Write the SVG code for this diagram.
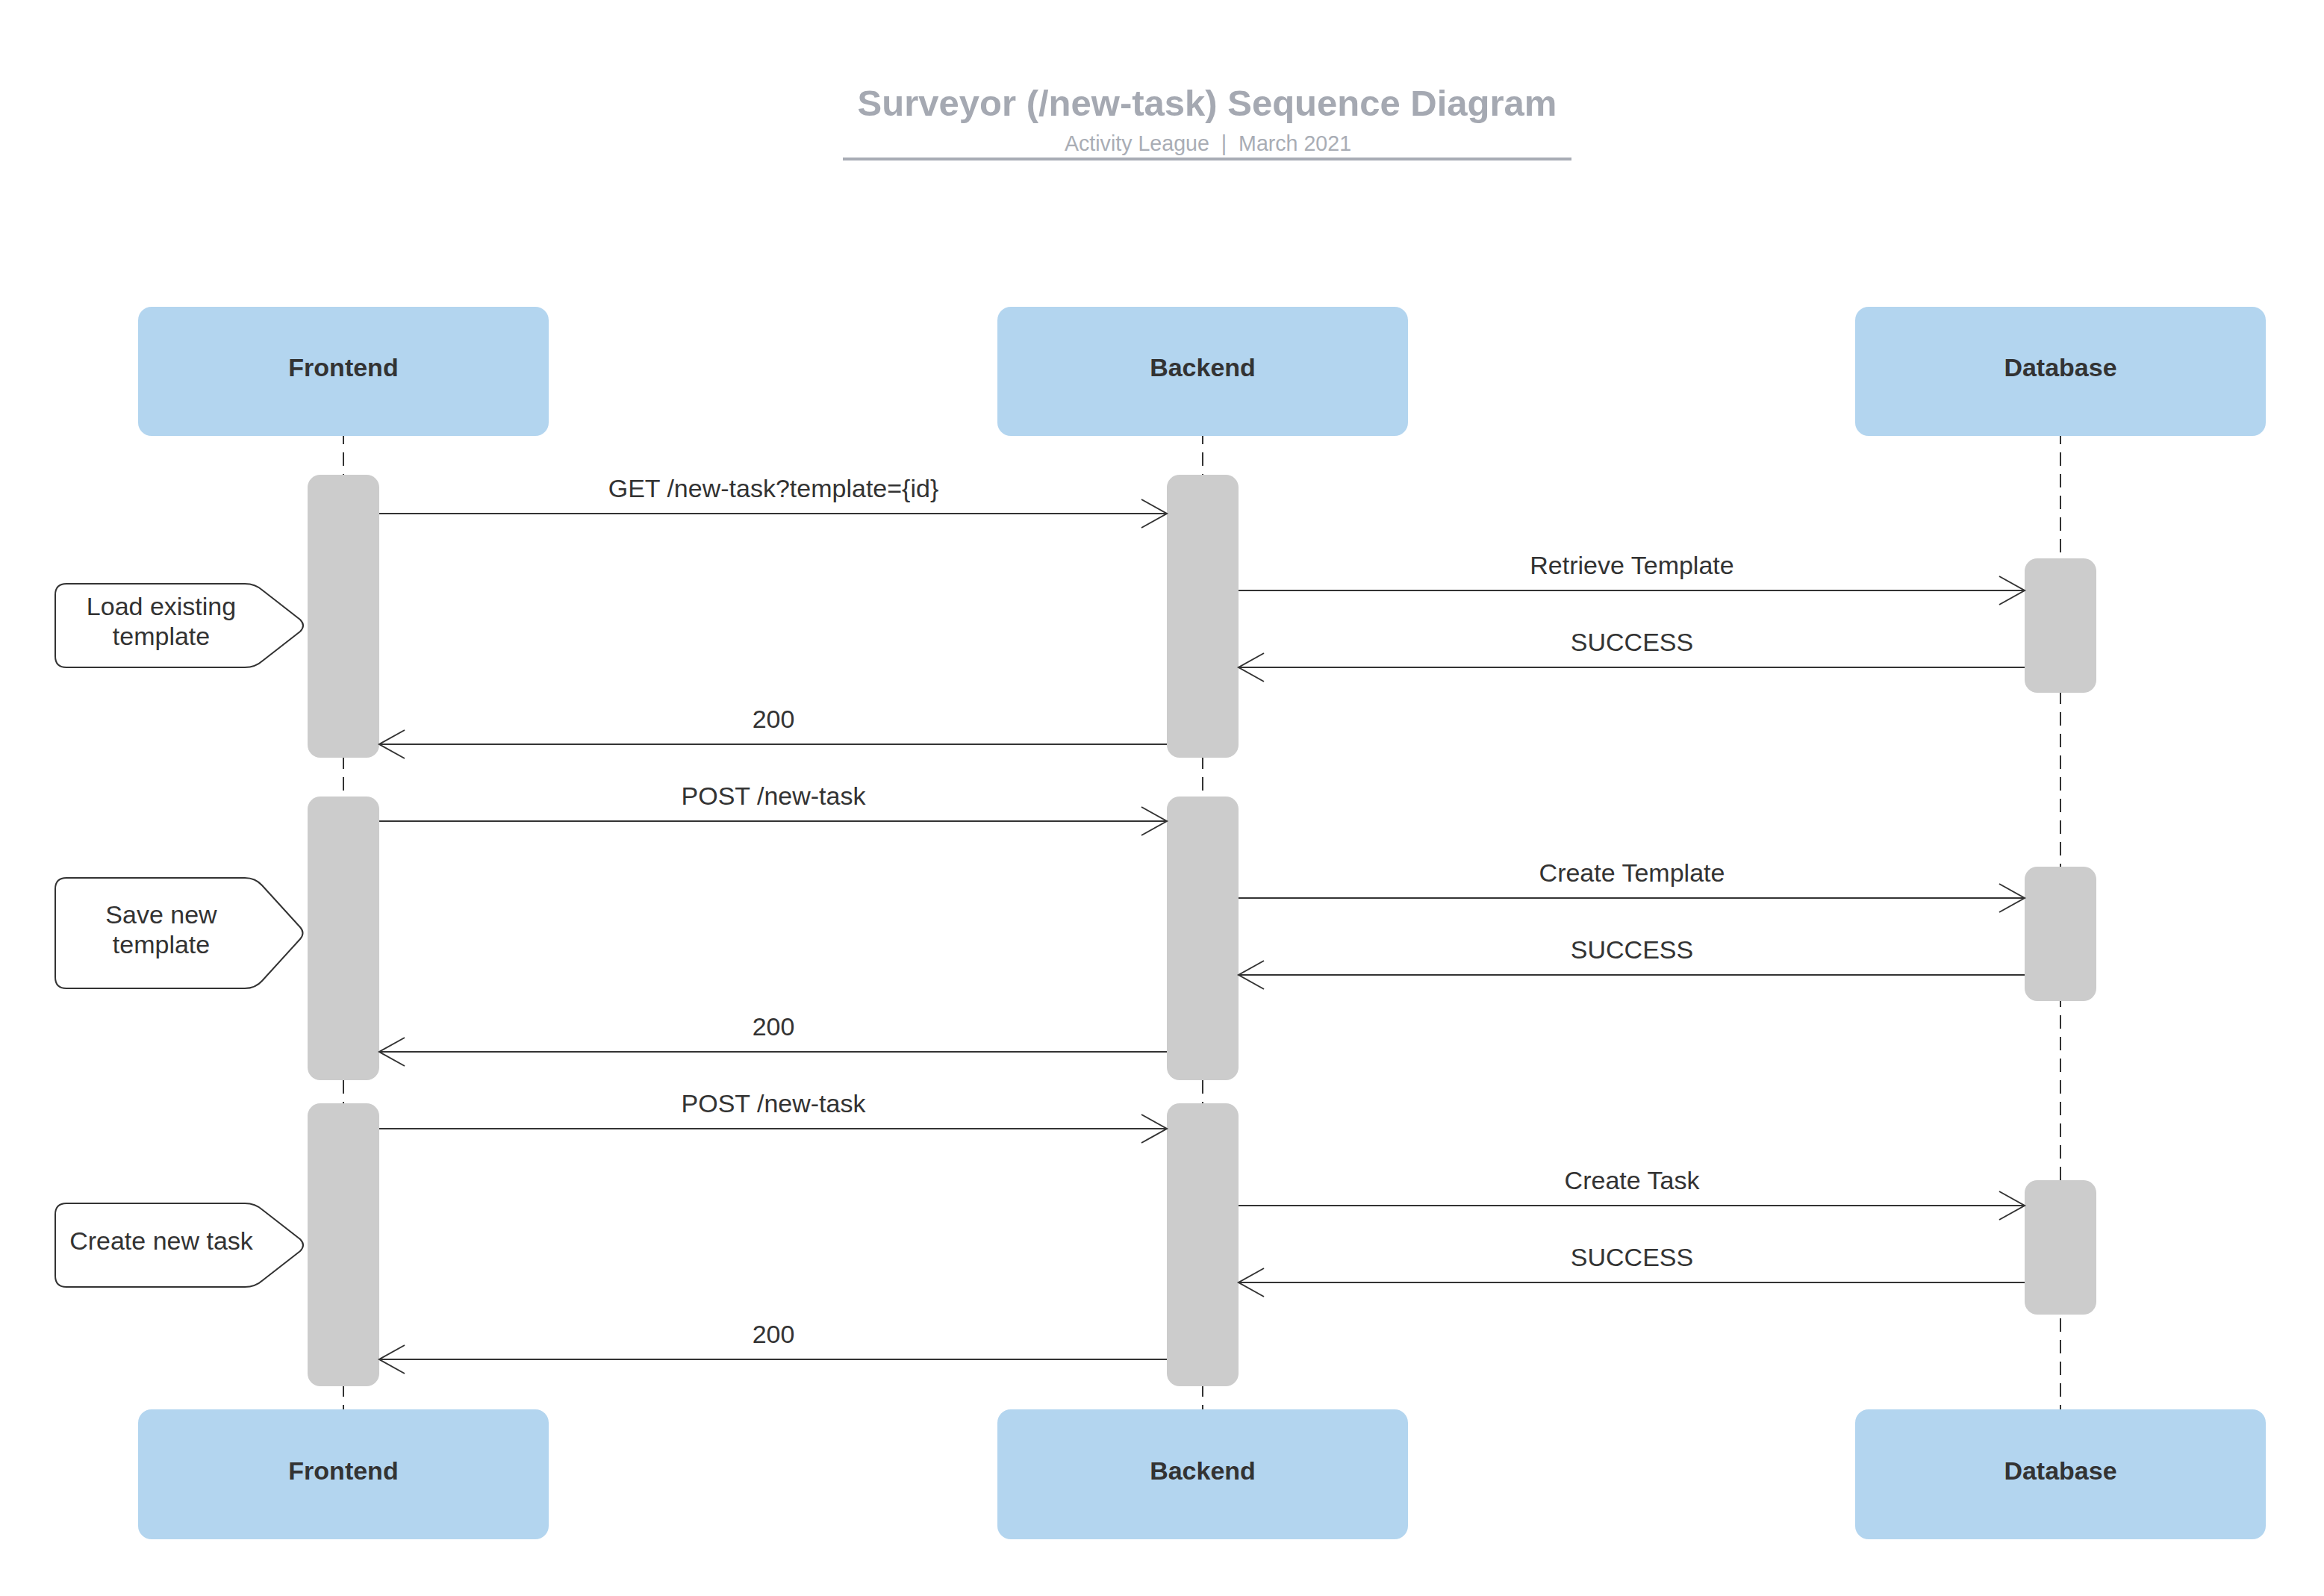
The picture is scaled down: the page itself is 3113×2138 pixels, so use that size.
<svg xmlns="http://www.w3.org/2000/svg" width="3113" height="2138" viewBox="0 0 3113 2138">
<style>
.bg{fill:#ffffff}
.title{font-family:"Liberation Sans",Arial,sans-serif;font-size:49px;font-weight:bold;fill:#a5a9b2;text-anchor:middle}
.sub{font-family:"Liberation Sans",Arial,sans-serif;font-size:28.6px;fill:#a9adb5;text-anchor:middle}
.head{fill:#b3d5ef}
.headtxt{font-family:"Liberation Sans",Arial,sans-serif;font-size:34px;font-weight:bold;fill:#333333;text-anchor:middle}
.life{stroke:#333333;stroke-width:2;stroke-dasharray:18 11;stroke-dashoffset:7;fill:none}
.bar{fill:#cccccc}
.msg{stroke:#333333;stroke-width:2;fill:none;marker-end:url(#arr)}
.lbl{font-family:"Liberation Sans",Arial,sans-serif;font-size:34px;fill:#333333;text-anchor:middle}
.note{fill:#ffffff;stroke:#333333;stroke-width:2}
</style>
<defs>
<marker id="arr" markerUnits="userSpaceOnUse" markerWidth="44" markerHeight="48" viewBox="-38 -24 44 48" refX="0" refY="0" orient="auto" overflow="visible">
<path d="M-34,-19 L0,0 L-34,19" fill="none" stroke="#333333" stroke-width="2"/>
</marker>
</defs>
<rect class="bg" x="0" y="0" width="3113" height="2138"/>

<g id="title">
<text class="title" x="1617" y="155">Surveyor (/new-task) Sequence Diagram</text>
<text class="sub" x="1618" y="202">Activity League&#160; |&#160; March 2021</text>
<line x1="1129" y1="213" x2="2105" y2="213" stroke="#a8acb5" stroke-width="4"/>
</g>

<g id="lifelines">
<line class="life" x1="460" y1="584" x2="460" y2="1888"/>
<line class="life" x1="1611" y1="584" x2="1611" y2="1888"/>
<line class="life" x1="2760" y1="584" x2="2760" y2="1888"/>
</g>

<g id="frontend-top">
<rect class="head" x="185" y="411" width="550" height="173" rx="18"/>
<text class="headtxt" x="460" y="504">Frontend</text>
</g>
<g id="backend-top">
<rect class="head" x="1336" y="411" width="550" height="173" rx="18"/>
<text class="headtxt" x="1611" y="504">Backend</text>
</g>
<g id="database-top">
<rect class="head" x="2485" y="411" width="550" height="173" rx="18"/>
<text class="headtxt" x="2760" y="504">Database</text>
</g>

<g id="frontend-bottom">
<rect class="head" x="185" y="1888" width="550" height="174" rx="18"/>
<text class="headtxt" x="460" y="1982">Frontend</text>
</g>
<g id="backend-bottom">
<rect class="head" x="1336" y="1888" width="550" height="174" rx="18"/>
<text class="headtxt" x="1611" y="1982">Backend</text>
</g>
<g id="database-bottom">
<rect class="head" x="2485" y="1888" width="550" height="174" rx="18"/>
<text class="headtxt" x="2760" y="1982">Database</text>
</g>

<g id="frontend-activations">
<rect class="bar" x="412" y="636" width="96" height="379" rx="17"/>
<rect class="bar" x="412" y="1067" width="96" height="380" rx="17"/>
<rect class="bar" x="412" y="1478" width="96" height="379" rx="17"/>
</g>
<g id="backend-activations">
<rect class="bar" x="1563" y="636" width="96" height="379" rx="17"/>
<rect class="bar" x="1563" y="1067" width="96" height="380" rx="17"/>
<rect class="bar" x="1563" y="1478" width="96" height="379" rx="17"/>
</g>
<g id="database-activations">
<rect class="bar" x="2712" y="748" width="96" height="180" rx="17"/>
<rect class="bar" x="2712" y="1161" width="96" height="180" rx="17"/>
<rect class="bar" x="2712" y="1581" width="96" height="180" rx="17"/>
</g>

<g id="note-load">
<path class="note" d="M89,782 L328,782 Q342,782 352,791 L402,830 Q410,838 402,846 L352,885 Q342,894 328,894 L89,894 Q74,894 74,879 L74,797 Q74,782 89,782 Z"/>
<text class="lbl" x="216" y="824">Load existing</text>
<text class="lbl" x="216" y="864">template</text>
</g>
<g id="note-save">
<path class="note" d="M89,1176 L328,1176 Q342,1176 351,1186 L402,1242 Q409,1250 402,1258 L351,1314 Q342,1324 328,1324 L89,1324 Q74,1324 74,1309 L74,1191 Q74,1176 89,1176 Z"/>
<text class="lbl" x="216" y="1237">Save new</text>
<text class="lbl" x="216" y="1277">template</text>
</g>
<g id="note-create">
<path class="note" d="M89,1612 L328,1612 Q342,1612 352,1621 L402,1660 Q410,1668 402,1676 L352,1715 Q342,1724 328,1724 L89,1724 Q74,1724 74,1709 L74,1627 Q74,1612 89,1612 Z"/>
<text class="lbl" x="216" y="1674">Create new task</text>
</g>

<g id="connectors">
<line class="msg" x1="508" y1="688" x2="1563" y2="688"/>
<line class="msg" x1="1659" y1="791" x2="2712" y2="791"/>
<line class="msg" x1="2712" y1="894" x2="1659" y2="894"/>
<line class="msg" x1="1563" y1="997" x2="508" y2="997"/>
<line class="msg" x1="508" y1="1100" x2="1563" y2="1100"/>
<line class="msg" x1="1659" y1="1203" x2="2712" y2="1203"/>
<line class="msg" x1="2712" y1="1306" x2="1659" y2="1306"/>
<line class="msg" x1="1563" y1="1409" x2="508" y2="1409"/>
<line class="msg" x1="508" y1="1512" x2="1563" y2="1512"/>
<line class="msg" x1="1659" y1="1615" x2="2712" y2="1615"/>
<line class="msg" x1="2712" y1="1718" x2="1659" y2="1718"/>
<line class="msg" x1="1563" y1="1821" x2="508" y2="1821"/>
</g>
<g id="connector-labels">
<text class="lbl" x="1036" y="666">GET /new-task?template={id}</text>
<text class="lbl" x="2186" y="769">Retrieve Template</text>
<text class="lbl" x="2186" y="872">SUCCESS</text>
<text class="lbl" x="1036" y="975">200</text>
<text class="lbl" x="1036" y="1078">POST /new-task</text>
<text class="lbl" x="2186" y="1181">Create Template</text>
<text class="lbl" x="2186" y="1284">SUCCESS</text>
<text class="lbl" x="1036" y="1387">200</text>
<text class="lbl" x="1036" y="1490">POST /new-task</text>
<text class="lbl" x="2186" y="1593">Create Task</text>
<text class="lbl" x="2186" y="1696">SUCCESS</text>
<text class="lbl" x="1036" y="1799">200</text>
</g>
</svg>
